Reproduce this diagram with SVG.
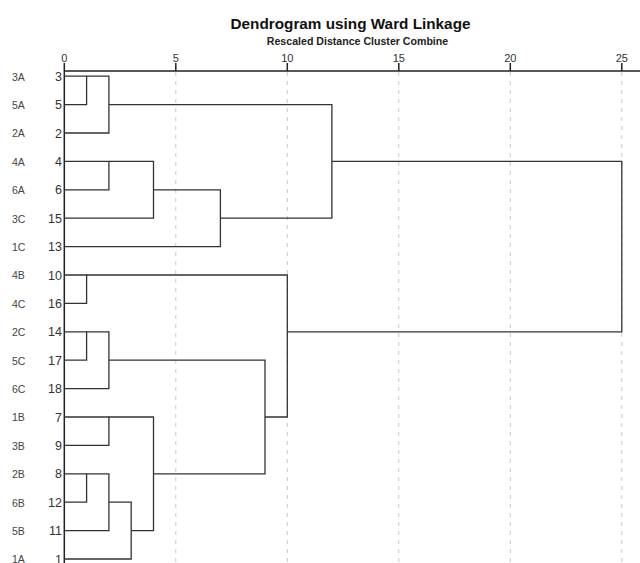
<svg xmlns="http://www.w3.org/2000/svg" width="640" height="563" viewBox="0 0 640 563">
<style>
text{font-family:"Liberation Sans",Arial,sans-serif;}
.title{font-size:15.3px;font-weight:bold;fill:#111;text-anchor:middle;}
.sub{font-size:10.6px;font-weight:bold;fill:#222;text-anchor:middle;}
.tick{font-size:11px;fill:#333;text-anchor:middle;}
.num{font-size:12.5px;fill:#333;text-anchor:end;}
.lab{font-size:10.5px;fill:#444;}
.grid{stroke:#c8c8c8;stroke-width:1;stroke-dasharray:4 5;fill:none;}
.axis{stroke:#222;stroke-width:1.5;fill:none;}
.link{stroke:#333;stroke-width:1.3;fill:none;}
</style>
<rect width="640" height="563" fill="#fff"/>
<text class="title" x="350.5" y="28.5">Dendrogram using Ward Linkage</text>
<text class="sub" x="357.5" y="44.5">Rescaled Distance Cluster Combine</text>
<g id="grid">
<path class="grid" d="M175.8 72V563M287.3 72V563M398.8 72V563M510.3 72V563M621.8 72V563"/>
</g>
<g id="axis">
<path class="axis" d="M64.3 71H640M64.3 63V563M175.8 63V71M287.3 63V71M398.8 63V71M510.3 63V71M621.8 63V71"/>
<text class="tick" x="64.3" y="61.7">0</text>
<text class="tick" x="175.8" y="61.7">5</text>
<text class="tick" x="287.3" y="61.7">10</text>
<text class="tick" x="398.8" y="61.7">15</text>
<text class="tick" x="510.3" y="61.7">20</text>
<text class="tick" x="621.8" y="61.7">25</text>
</g>
<g id="leaf-3A"><text class="lab" x="12" y="80.6">3A</text><text class="num" x="62" y="80.8">3</text></g>
<g id="leaf-5A"><text class="lab" x="12" y="109">5A</text><text class="num" x="62" y="109.2">5</text></g>
<g id="leaf-2A"><text class="lab" x="12" y="137.4">2A</text><text class="num" x="62" y="137.6">2</text></g>
<g id="leaf-4A"><text class="lab" x="12" y="165.8">4A</text><text class="num" x="62" y="166">4</text></g>
<g id="leaf-6A"><text class="lab" x="12" y="194.2">6A</text><text class="num" x="62" y="194.4">6</text></g>
<g id="leaf-3C"><text class="lab" x="12" y="222.6">3C</text><text class="num" x="62" y="222.8">15</text></g>
<g id="leaf-1C"><text class="lab" x="12" y="251">1C</text><text class="num" x="62" y="251.2">13</text></g>
<g id="leaf-4B"><text class="lab" x="12" y="279.4">4B</text><text class="num" x="62" y="279.6">10</text></g>
<g id="leaf-4C"><text class="lab" x="12" y="307.8">4C</text><text class="num" x="62" y="308">16</text></g>
<g id="leaf-2C"><text class="lab" x="12" y="336.2">2C</text><text class="num" x="62" y="336.4">14</text></g>
<g id="leaf-5C"><text class="lab" x="12" y="364.6">5C</text><text class="num" x="62" y="364.8">17</text></g>
<g id="leaf-6C"><text class="lab" x="12" y="393">6C</text><text class="num" x="62" y="393.2">18</text></g>
<g id="leaf-1B"><text class="lab" x="12" y="421.4">1B</text><text class="num" x="62" y="421.6">7</text></g>
<g id="leaf-3B"><text class="lab" x="12" y="449.8">3B</text><text class="num" x="62" y="450">9</text></g>
<g id="leaf-2B"><text class="lab" x="12" y="478.2">2B</text><text class="num" x="62" y="478.4">8</text></g>
<g id="leaf-6B"><text class="lab" x="12" y="506.6">6B</text><text class="num" x="62" y="506.8">12</text></g>
<g id="leaf-5B"><text class="lab" x="12" y="535">5B</text><text class="num" x="62" y="535.2">11</text></g>
<g id="leaf-1A"><text class="lab" x="12" y="563.4">1A</text><text class="num" x="62" y="563.6">1</text></g>
<g id="connectors">
<path class="link" d="M64.3 76.2H86.6V104.6H64.3"/>
<path class="link" d="M86.6 76.2H108.9V133H64.3"/>
<path class="link" d="M64.3 161.4H108.9V189.8H64.3"/>
<path class="link" d="M108.9 161.4H153.5V218.2H64.3"/>
<path class="link" d="M153.5 189.8H220.4V246.6H64.3"/>
<path class="link" d="M108.9 104.6H331.9V218.2H220.4"/>
<path class="link" d="M64.3 275H86.6V303.4H64.3"/>
<path class="link" d="M64.3 331.8H86.6V360.2H64.3"/>
<path class="link" d="M86.6 331.8H108.9V388.6H64.3"/>
<path class="link" d="M64.3 417H108.9V445.4H64.3"/>
<path class="link" d="M64.3 473.8H86.6V502.2H64.3"/>
<path class="link" d="M86.6 473.8H108.9V530.6H64.3"/>
<path class="link" d="M108.9 502.2H131.2V559H64.3"/>
<path class="link" d="M108.9 417H153.5V530.6H131.2"/>
<path class="link" d="M108.9 360.2H265V473.8H153.5"/>
<path class="link" d="M86.6 275H287.3V417H265"/>
<path class="link" d="M331.9 161.4H621.8V331.8H287.3"/>
</g>
</svg>
